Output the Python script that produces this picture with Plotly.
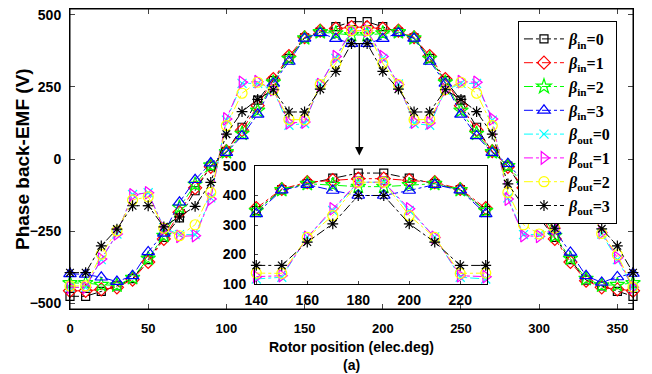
import plotly.graph_objects as go

theta = list(range(0, 361, 10))

bin0 = [-476, -476, -459, -440, -415, -349, -272, -204, -110, -25,
        25, 110, 204, 272, 349, 420, 440, 459, 476,
        476, 459, 440, 420, 349, 272, 204, 110, 25,
        -25, -110, -204, -272, -349, -420, -440, -459, -476]
bin1 = [-457, -457, -452, -445, -418, -357, -277, -185, -100, -27,
        27, 100, 185, 277, 357, 422, 445, 452, 457,
        457, 452, 445, 422, 357, 277, 185, 100, 27,
        -27, -100, -185, -277, -357, -422, -445, -452, -457]
bin2 = [-430, -430, -436, -438, -412, -345, -266, -168, -88, -22,
        24, 88, 168, 266, 348, 419, 440, 436, 430,
        430, 436, 440, 419, 348, 266, 168, 88, 24,
        -24, -88, -168, -266, -345, -415, -438, -436, -430]
bin3 = [-398, -400, -410, -425, -405, -322, -258, -150, -72, -14,
        22, 80, 155, 262, 338, 418, 437, 417, 400,
        400, 417, 437, 418, 338, 262, 155, 80, 22,
        -16, -78, -152, -249, -324, -405, -428, -409, -397]
bout0 = [-445, -445, -349, -260, -123, -117, -238, -262, -262, -135,
         135, 262, 262, 238, 117, 123, 260, 349, 445,
         445, 349, 260, 123, 117, 238, 262, 262, 135,
         -135, -262, -262, -238, -117, -123, -260, -349, -445]
bout1 = [-445, -445, -347, -260, -124, -117, -240, -268, -266, -139,
         139, 266, 268, 240, 125, 128, 258, 355, 445,
         445, 355, 258, 128, 125, 240, 268, 266, 139,
         -139, -266, -268, -240, -125, -128, -255, -342, -445]
bout2 = [-440, -440, -330, -249, -142, -131, -240, -266, -228, -116,
         116, 228, 266, 240, 137, 136, 258, 332, 445,
         445, 332, 258, 136, 137, 240, 266, 228, 116,
         -116, -228, -260, -240, -137, -136, -258, -332, -444]
bout3 = [-394, -394, -301, -243, -162, -162, -235, -201, -164, -81,
         86, 164, 207, 240, 163, 163, 242, 304, 400,
         400, 304, 242, 163, 163, 240, 207, 164, 86,
         -86, -164, -207, -240, -163, -163, -242, -301, -394]

series = [bin0, bin1, bin2, bin3, bout0, bout1, bout2, bout3]
names = ["<b><i>β</i><sub>in</sub>=0</b>", "<b><i>β</i><sub>in</sub>=1</b>",
         "<b><i>β</i><sub>in</sub>=2</b>", "<b><i>β</i><sub>in</sub>=3</b>",
         "<b><i>β</i><sub>out</sub>=0</b>", "<b><i>β</i><sub>out</sub>=1</b>",
         "<b><i>β</i><sub>out</sub>=2</b>", "<b><i>β</i><sub>out</sub>=3</b>"]
colors = ["#000000", "#ff0000", "#00ff00", "#0000ff",
          "#00ffff", "#ff00ff", "#ffff00", "#000000"]
symbols = ["square-open", "diamond-open", "star-open", "triangle-up-open",
           "x-thin-open", "triangle-right-open", "circle-open", "asterisk-open"]
sizes = [8, 10, 11, 11, 9, 11, 10, 9]

x_ticks = [0, 50, 100, 150, 200, 250, 300, 350]
y_ticks = [-500, -250, 0, 250, 500]
inset_x_ticks = [140, 160, 180, 200, 220]
inset_y_ticks = [100, 200, 300, 400, 500]

fig = go.Figure()
for s, nm, c, sym, sz in zip(series, names, colors, symbols, sizes):
    fig.add_trace(go.Scatter(
        x=theta, y=s, name=nm, mode="lines+markers",
        line=dict(color=c, width=1, dash="dashdot"),
        marker=dict(symbol=sym, size=sz, color=c, line=dict(color=c, width=1.2)),
        cliponaxis=False, xaxis="x", yaxis="y"))

for s, c, sym, sz in zip(series, colors, symbols, sizes):
    xs = [t for t in theta if 140 <= t <= 230]
    ys = [v for t, v in zip(theta, s) if 140 <= t <= 230]
    fig.add_trace(go.Scatter(
        x=xs, y=ys, mode="lines+markers", showlegend=False,
        line=dict(color=c, width=1, dash="dashdot"),
        marker=dict(symbol=sym, size=sz, color=c, line=dict(color=c, width=1.2)),
        cliponaxis=False, xaxis="x2", yaxis="y2"))

sans = "Liberation Sans, Arial, sans-serif"
xtickfont = dict(family=sans, size=13, color="black", weight="bold")
ytickfont = dict(family=sans, size=14, color="black", weight="bold")
itickfont = dict(family=sans, size=14, color="black", weight="bold")

fig.update_layout(
    width=644, height=366,
    margin=dict(l=62, r=19, t=1, b=65, autoexpand=False),
    paper_bgcolor="white", plot_bgcolor="white",
    font=dict(family=sans, color="black"),
    xaxis=dict(range=[0, 360], tickvals=x_ticks, ticks="inside", ticklen=5,
               showline=True, mirror="ticks", linecolor="black", linewidth=1,
               showgrid=False, zeroline=False, tickfont=xtickfont, automargin=False,
               ticklabelstandoff=7, ticklabeloverflow="allow", domain=[0, 1]),
    yaxis=dict(range=[-520, 520], tickvals=y_ticks, ticks="inside", ticklen=5,
               showline=True, mirror="ticks", linecolor="black", linewidth=1,
               showgrid=False, zeroline=False, tickfont=ytickfont, automargin=False,
               ticklabelstandoff=5, ticklabeloverflow="allow", domain=[0, 1]),
    xaxis2=dict(range=[139.5, 230.5], tickvals=inset_x_ticks, ticks="inside", ticklen=3,
                showline=True, mirror=True, linecolor="black", linewidth=1,
                showgrid=False, zeroline=False, tickfont=itickfont, automargin=False,
                ticklabelstandoff=3, domain=[0.3286, 0.7407], anchor="y2"),
    yaxis2=dict(range=[100, 500], tickvals=inset_y_ticks, ticks="inside", ticklen=3,
                showline=True, mirror=True, linecolor="black", linewidth=1,
                showgrid=False, zeroline=False, tickfont=itickfont, automargin=False,
                ticklabelstandoff=5, domain=[0.0833, 0.4767], anchor="x2"),
    legend=dict(x=0.7957, y=0.96, xanchor="left", yanchor="top",
                bgcolor="white", bordercolor="black", borderwidth=1,
                font=dict(family="Liberation Serif", size=16, color="black"),
                tracegroupgap=0, itemwidth=40),
    shapes=[dict(type="rect", xref="x2", yref="y2", x0=139.5, x1=230.5, y0=100, y1=500,
                 fillcolor="white", line=dict(width=0), layer="below"),
            dict(type="rect", xref="paper", yref="paper", x0=0, x1=1, y0=0, y1=1,
                 fillcolor="rgba(0,0,0,0)", line=dict(color="black", width=1), layer="above")],
    annotations=[
        dict(x=185, y=12, xref="x", yref="y", ax=185, ay=405, axref="x", ayref="y",
             showarrow=True, arrowhead=2, arrowsize=1.3, arrowwidth=1.3, arrowcolor="black", text=""),
        dict(text="<b>Phase back-EMF (V)</b>", xref="paper", yref="paper",
             x=-0.0853, y=0.5, xanchor="center", yanchor="middle", textangle=-90, showarrow=False,
             font=dict(family=sans, size=19, color="black")),
        dict(text="<b>Rotor position (elec.deg)</b>", xref="paper", yref="paper",
             x=0.5, y=-0.127, xanchor="center", yanchor="middle", showarrow=False,
             font=dict(family=sans, size=14, color="black")),
        dict(text="<b>(a)</b>", xref="paper", yref="paper",
             x=0.5, y=-0.188, xanchor="center", yanchor="middle", showarrow=False,
             font=dict(family=sans, size=14, color="black")),
    ],
)

fig.write_html("out.html")
